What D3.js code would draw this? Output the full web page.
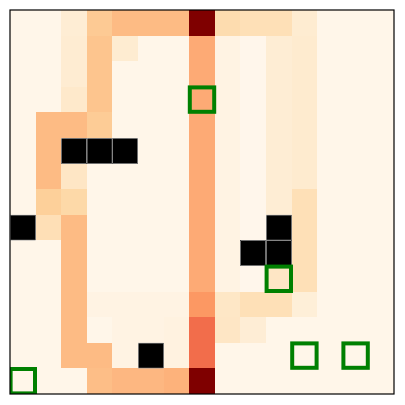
<!DOCTYPE html>
<html>
<head>
<meta charset="utf-8">
<script src="https://cdn.jsdelivr.net/npm/d3@7"></script>
<style>
html,body{margin:0;padding:0;background:#fff;}
</style>
</head>
<body>
<svg id="chart" width="405" height="405"></svg>
<script>
// Normalised visit values per grid row (null = wall)
const B = 0.01, Z = 0.005, S = 0.03;
const row0  = [B, B, 0.085, 0.30, 0.375, 0.375, 0.375, 1.0, 0.20, 0.175, 0.175, 0.095, B, B, B];
const row1  = [B, B, 0.09, 0.325, 0.095, B, B, 0.42, S, Z, 0.085, 0.10, B, B, B];
const row2  = [B, B, 0.09, 0.325, B, B, B, 0.42, S, Z, 0.085, 0.10, B, B, B];
const row3  = [B, B, 0.115, 0.325, B, B, B, 0.42, S, Z, 0.085, 0.10, B, B, B];
const row4  = [B, 0.375, 0.375, 0.29, B, B, B, 0.42, S, Z, 0.085, 0.10, B, B, B];
const row5  = [B, 0.375, null, null, null, B, B, 0.42, S, Z, 0.085, 0.10, B, B, B];
const row6  = [B, 0.375, 0.135, B, B, B, B, 0.42, S, Z, 0.085, 0.10, B, B, B];
const row7  = [B, 0.27, 0.22, B, B, B, B, 0.42, S, Z, 0.085, 0.175, B, B, B];
const row8  = [null, 0.18, 0.375, B, B, B, B, 0.42, S, Z, null, 0.175, B, B, B];
const row9  = [B, B, 0.375, B, B, B, B, 0.42, S, null, null, 0.175, B, B, B];
const row10 = [B, B, 0.375, B, B, B, B, 0.42, S, Z, 0.135, 0.175, B, B, B];
const row11 = [B, B, 0.375, S, S, S, S, 0.47, 0.13, 0.175, 0.175, 0.07, B, B, B];
const row12 = [B, B, 0.375, B, S, S, 0.04, 0.60, 0.135, 0.08, B, B, B, B, B];
const row13 = [B, B, 0.375, 0.375, S, null, 0.04, 0.60, B, B, B, B, B, B, B];
const row14 = [B, B, B, 0.36, 0.385, 0.385, 0.40, 1.0, B, B, B, B, B, B, B];
const grid = [row0,row1,row2,row3,row4,row5,row6,row7,row8,row9,row10,row11,row12,row13,row14];

// Marker cells [row, col]
const markers = [[3,7],[10,10],[13,11],[13,13],[14,0]];

const orrd = ["#fff7ec","#fee8c8","#fdd49e","#fdbb84","#fc8d59","#ef6548","#d7301f","#b30000","#7f0000"];
const color = d3.scaleLinear().domain(d3.range(9).map(i => i/8)).range(orrd).clamp(true);

const svg = d3.select("#chart");
const mLeft = 10, mTop = 10, size = 384;
const n = grid.length;
const x = d3.scaleBand().domain(d3.range(n)).range([mLeft, mLeft+size]);
const y = d3.scaleBand().domain(d3.range(n)).range([mTop, mTop+size]);

svg.append("defs").append("clipPath").attr("id","clip")
  .append("rect").attr("x",mLeft).attr("y",mTop).attr("width",size).attr("height",size);

const cells = [];
grid.forEach((r, i) => r.forEach((v, j) => cells.push({i, j, v})));

const g = svg.append("g").attr("clip-path","url(#clip)");
g.selectAll("rect.cell").data(cells).enter().append("rect")
  .attr("class","cell")
  .attr("x", d => x(d.j)).attr("y", d => y(d.i))
  .attr("width", x.bandwidth()+0.4).attr("height", y.bandwidth()+0.4)
  .attr("fill", d => d.v === null ? "#000" : color(d.v))
  .attr("shape-rendering","crispEdges");

g.selectAll("rect.wall").data(cells.filter(d => d.v === null)).enter().append("rect")
  .attr("class","wall")
  .attr("x", d => x(d.j)+0.3).attr("y", d => y(d.i)+0.3)
  .attr("width", x.bandwidth()-0.6).attr("height", y.bandwidth()-0.6)
  .attr("fill","#000").attr("stroke","#bbb").attr("stroke-width",0.6);

g.selectAll("rect.marker").data(markers).enter().append("rect")
  .attr("class","marker")
  .attr("x", d => x(d[1])+0.6).attr("y", d => y(d[0])+0.6)
  .attr("width", x.bandwidth()-1.2).attr("height", y.bandwidth()-1.2)
  .attr("fill","none").attr("stroke","#008000").attr("stroke-width",4);

svg.append("rect").attr("x",mLeft).attr("y",mTop).attr("width",size).attr("height",size)
  .attr("fill","none").attr("stroke","#000").attr("stroke-width",1.2);
</script>
</body>
</html>
